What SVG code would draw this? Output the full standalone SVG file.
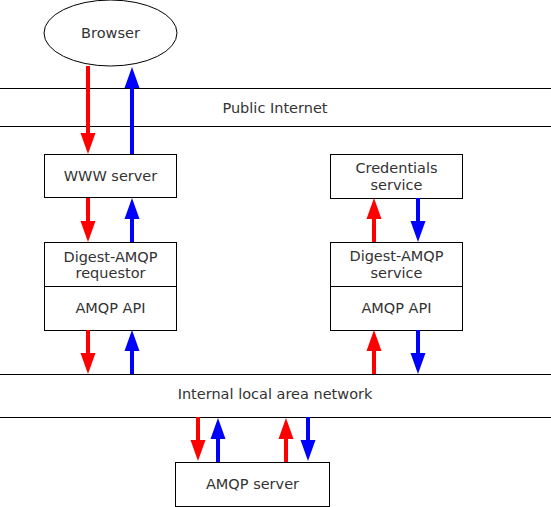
<svg xmlns="http://www.w3.org/2000/svg" width="551" height="507" viewBox="0 0 551 507">
<style>
  .box { fill: #fff; stroke: #000; stroke-width: 1; }
  .net { stroke: #000; stroke-width: 1; fill: none; }
  .t { font-family: "DejaVu Sans", sans-serif; font-size: 14.5px; fill: #333; text-anchor: middle; }
  .r { stroke: #ff0000; stroke-width: 4; fill: none; marker-end: url(#hr); }
  .b { stroke: #0000ff; stroke-width: 4; fill: none; marker-end: url(#hb); }
</style>
<defs>
  <marker id="hr" markerUnits="userSpaceOnUse" markerWidth="22" markerHeight="16" refX="0" refY="8" orient="auto" overflow="visible">
    <path d="M0,0.5 L21,8 L0,15.5 Z" fill="#ff0000"/>
  </marker>
  <marker id="hb" markerUnits="userSpaceOnUse" markerWidth="22" markerHeight="16" refX="0" refY="8" orient="auto" overflow="visible">
    <path d="M0,0.5 L21,8 L0,15.5 Z" fill="#0000ff"/>
  </marker>
</defs>
<rect width="551" height="507" fill="#fff"/>
<g id="public-internet">
  <line class="net" x1="0" y1="88.5" x2="551" y2="88.5"/>
  <line class="net" x1="0" y1="126.5" x2="551" y2="126.5"/>
  <text class="t" x="275" y="112.5">Public Internet</text>
</g>
<g id="lan">
  <line class="net" x1="0" y1="374.5" x2="551" y2="374.5"/>
  <line class="net" x1="0" y1="417.5" x2="551" y2="417.5"/>
  <text class="t" x="275" y="398.5">Internal local area network</text>
</g>
<g id="browser">
  <ellipse cx="110.5" cy="33" rx="66.5" ry="33" fill="#fff" stroke="#000" stroke-width="1"/>
  <text class="t" x="110.5" y="38">Browser</text>
</g>
<g id="www-server">
  <rect class="box" x="44.5" y="154.5" width="132" height="43"/>
  <text class="t" x="110.5" y="181">WWW server</text>
</g>
<g id="digest-requestor">
  <rect class="box" x="44.5" y="242.5" width="132" height="88"/>
  <line class="net" x1="44.5" y1="286.5" x2="176.5" y2="286.5"/>
  <text class="t" x="110.5" y="261.5">Digest-AMQP</text>
  <text class="t" x="110.5" y="277.5">requestor</text>
  <text class="t" x="110.5" y="313">AMQP API</text>
</g>
<g id="credentials-service">
  <rect class="box" x="330.5" y="154.5" width="132" height="44"/>
  <text class="t" x="396.5" y="173">Credentials</text>
  <text class="t" x="396.5" y="190">service</text>
</g>
<g id="digest-service">
  <rect class="box" x="330.5" y="242.5" width="132" height="88"/>
  <line class="net" x1="330.5" y1="286.5" x2="462.5" y2="286.5"/>
  <text class="t" x="396.5" y="261">Digest-AMQP</text>
  <text class="t" x="396.5" y="277.5">service</text>
  <text class="t" x="396.5" y="313">AMQP API</text>
</g>
<g id="amqp-server">
  <rect class="box" x="175.5" y="462.5" width="154" height="44"/>
  <text class="t" x="252.5" y="489">AMQP server</text>
</g>
<g id="connectors">
  <line class="r" x1="88" y1="66" x2="88" y2="133"/>
  <line class="b" x1="132" y1="154" x2="132" y2="88"/>
  <line class="r" x1="88" y1="198" x2="88" y2="221"/>
  <line class="b" x1="132" y1="242" x2="132" y2="219"/>
  <line class="r" x1="88" y1="330" x2="88" y2="353"/>
  <line class="b" x1="132" y1="374" x2="132" y2="351"/>
  <line class="r" x1="374" y1="242" x2="374" y2="219"/>
  <line class="b" x1="418" y1="198" x2="418" y2="221"/>
  <line class="r" x1="374" y1="374" x2="374" y2="351"/>
  <line class="b" x1="418" y1="330" x2="418" y2="353"/>
  <line class="r" x1="198" y1="417" x2="198" y2="440"/>
  <line class="b" x1="218" y1="462" x2="218" y2="439"/>
  <line class="r" x1="286" y1="462" x2="286" y2="439"/>
  <line class="b" x1="308" y1="417" x2="308" y2="440"/>
</g>
</svg>
